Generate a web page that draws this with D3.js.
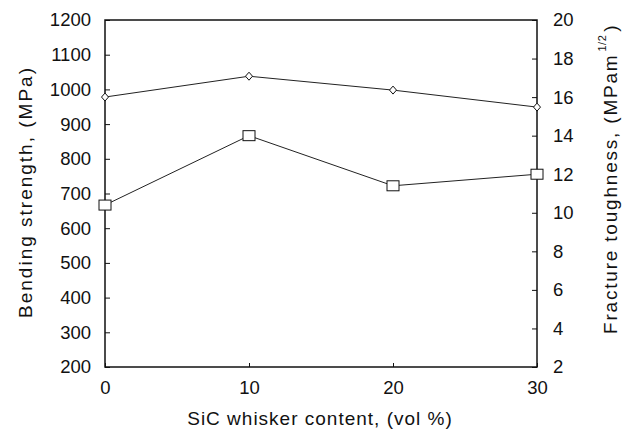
<!DOCTYPE html>
<html><head><meta charset="utf-8">
<script src="https://cdn.jsdelivr.net/npm/d3@7"></script>
<style>body{margin:0;background:#fff}svg text{font-family:"Liberation Sans",Arial,sans-serif;fill:#111}</style>
</head><body><svg id="c" width="623" height="432"></svg>
<script>
const xValues = [0, 10, 20, 30];
const bendingStrength = [978, 1038, 998, 949];   // MPa, diamonds, left axis
const fractureToughness = [10.4, 14.0, 11.4, 12.0]; // MPam^1/2, squares, right axis
const leftTicks = [200,300,400,500,600,700,800,900,1000,1100,1200];
const rightTicks = [2,4,6,8,10,12,14,16,18,20];
const xTicks = [0,10,20,30];

const svg = d3.select("#c");
const L=105, R=537, T=20, B=367;
const x = d3.scaleLinear().domain([0,30]).range([L,R]);
const yL = d3.scaleLinear().domain([200,1200]).range([B,T]);
const yR = d3.scaleLinear().domain([2,20]).range([B,T]);

svg.append("rect").attr("x",L).attr("y",T).attr("width",R-L).attr("height",B-T)
  .attr("fill","none").attr("stroke","#111").attr("stroke-width",1.5);

const fmt = d3.format("d");
const ax = svg.append("g").attr("transform",`translate(${L},0)`)
  .call(d3.axisLeft(yL).tickValues(leftTicks).tickFormat(fmt).tickSizeInner(-5).tickSizeOuter(0).tickPadding(14));
const ar = svg.append("g").attr("transform",`translate(${R},0)`)
  .call(d3.axisRight(yR).tickValues(rightTicks).tickFormat(fmt).tickSizeInner(-5).tickSizeOuter(0).tickPadding(16));
const ab = svg.append("g").attr("transform",`translate(0,${B})`)
  .call(d3.axisBottom(x).tickValues(xTicks).tickFormat(fmt).tickSizeInner(-4).tickSizeOuter(0).tickPadding(14));
[ax,ar,ab].forEach(g=>{
  g.select(".domain").remove();
  g.selectAll("line").attr("stroke","#111");
  g.selectAll("text").attr("font-size",18.5).attr("fill","#111");
});

const lineL = d3.line().x((d,i)=>x(xValues[i])).y(d=>yL(d));
const lineR = d3.line().x((d,i)=>x(xValues[i])).y(d=>yR(d));
svg.append("path").attr("d",lineL(bendingStrength)).attr("fill","none").attr("stroke","#222").attr("stroke-width",1);
svg.append("path").attr("d",lineR(fractureToughness)).attr("fill","none").attr("stroke","#222").attr("stroke-width",1);

svg.selectAll(".dia").data(bendingStrength).join("path")
  .attr("transform",(d,i)=>`translate(${x(xValues[i])},${yL(d)})`)
  .attr("d","M0,-4L3.5,0L0,4L-3.5,0Z").attr("fill","#fff").attr("stroke","#111").attr("stroke-width",1);
svg.selectAll(".sq").data(fractureToughness).join("rect")
  .attr("x",(d,i)=>x(xValues[i])-6).attr("y",d=>yR(d)-5).attr("width",12).attr("height",10)
  .attr("fill","#fff").attr("stroke","#111").attr("stroke-width",1);

svg.append("text").attr("transform","translate(32,192) rotate(-90)").attr("text-anchor","middle")
  .attr("font-size",19).attr("letter-spacing",2).text("Bending strength, (MPa)");
const rt = svg.append("text").attr("transform","translate(617,334) rotate(-90)").attr("text-anchor","start")
  .attr("font-size",19).attr("letter-spacing",1.8);
rt.append("tspan").text("Fracture toughness, (MPam");
rt.append("tspan").attr("font-size",11).attr("letter-spacing",0.5).attr("dy",-11).attr("dx",2).text("1/2");
rt.append("tspan").attr("dy",11).attr("dx",3).text(")");
svg.append("text").attr("x",320).attr("y",425).attr("text-anchor","middle").attr("font-size",19)
  .attr("letter-spacing",1).text("SiC whisker content, (vol %)");
</script></body></html>
